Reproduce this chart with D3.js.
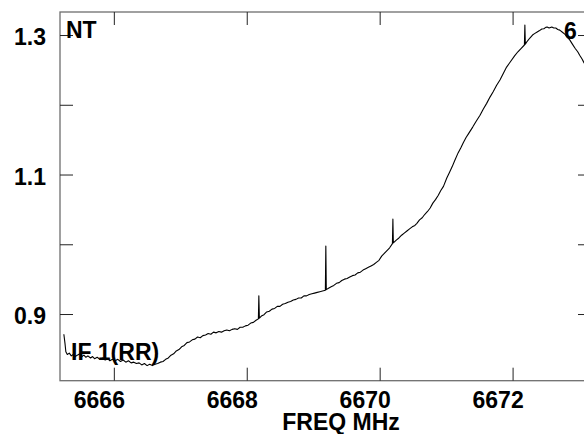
<!DOCTYPE html>
<html>
<head>
<meta charset="utf-8">
<script src="https://cdn.jsdelivr.net/npm/d3@7"></script>
<style>
html,body{margin:0;padding:0;background:#fff;}
svg{display:block;}
text{font-family:"Liberation Sans",Arial,Helvetica,sans-serif;font-weight:bold;fill:#000;}
</style>
</head>
<body>
<svg id="chart" width="584" height="434"></svg>
<script>
// ---- data ----
const xTicks = [6666, 6668, 6670, 6672];
const yTicks = [0.9, 1.0, 1.1, 1.2, 1.3];
const yLabels = [0.9, 1.1, 1.3];
const xDomain = [6665.19, 6673.18];
const yDomain = [0.8044, 1.333];
const xTitle = "FREQ MHz";
const cornerLabels = ["NT", "6", "IF 1(RR)"];

const freq = [
6665.248,6665.265,6665.278,6665.30,6665.33,6665.36,6665.39,6665.42,6665.45,6665.49,
6665.52,6665.55,6665.58,6665.61,6665.65,6665.68,6665.71,6665.75,6665.79,6665.83,
6665.87,6665.91,6665.94,6665.98,6666.02,6666.06,6666.10,6666.14,6666.18,6666.22,
6666.26,6666.30,6666.34,6666.38,6666.42,6666.46,6666.50,6666.54,6666.58,6666.62,
6666.66,6666.70,6666.74,6666.78,6666.82,6666.86,6666.90,6666.94,6666.98,6667.02,
6667.06,6667.10,6667.14,6667.18,6667.22,6667.26,6667.30,6667.34,6667.38,6667.42,
6667.46,6667.50,6667.54,6667.58,6667.62,6667.66,6667.70,6667.74,6667.78,6667.82,
6667.86,6667.90,6667.94,6667.98,6668.02,6668.06,6668.10,6668.14,6668.175,6668.182,
6668.19,6668.22,6668.26,6668.30,6668.34,6668.38,6668.42,6668.46,6668.50,6668.54,
6668.58,6668.62,6668.66,6668.70,6668.74,6668.78,6668.82,6668.86,6668.90,6668.94,
6668.98,6669.02,6669.06,6669.10,6669.14,6669.183,6669.19,6669.197,6669.23,6669.27,
6669.31,6669.35,6669.39,6669.43,6669.47,6669.51,6669.55,6669.59,6669.63,6669.67,
6669.71,6669.75,6669.79,6669.83,6669.87,6669.91,6669.95,6669.99,6670.03,6670.07,
6670.11,6670.15,6670.192,6670.199,6670.206,6670.25,6670.29,6670.33,6670.37,6670.41,
6670.45,6670.49,6670.53,6670.56,6670.60,6670.64,6670.68,6670.72,6670.76,6670.80,
6670.84,6670.88,6670.92,6670.96,6671.01,6671.05,6671.09,6671.13,6671.18,6671.22,
6671.26,6671.30,6671.34,6671.40,6671.45,6671.51,6671.56,6671.61,6671.66,6671.71,
6671.76,6671.81,6671.86,6671.91,6671.97,6672.03,6672.08,6672.13,6672.178,6672.185,
6672.192,6672.22,6672.26,6672.30,6672.33,6672.37,6672.40,6672.44,6672.47,6672.50,
6672.52,6672.55,6672.59,6672.62,6672.65,6672.68,6672.71,6672.75,6672.79,6672.82,
6672.86,6672.90,6672.94,6672.98,6673.01,6673.05,6673.07,6673.12,6673.18
];
const flux = [
0.871,0.858,0.846,0.842,0.844,0.840,0.842,0.839,0.841,0.843,
0.839,0.841,0.838,0.840,0.837,0.839,0.836,0.838,0.835,0.837,
0.834,0.836,0.833,0.835,0.833,0.835,0.832,0.834,0.831,0.833,
0.830,0.831,0.829,0.830,0.827,0.829,0.826,0.828,0.826,0.828,
0.829,0.831,0.832,0.835,0.837,0.841,0.843,0.847,0.849,0.853,
0.855,0.859,0.860,0.863,0.864,0.867,0.866,0.869,0.870,0.872,
0.871,0.874,0.873,0.875,0.874,0.876,0.877,0.876,0.878,0.879,
0.878,0.881,0.881,0.883,0.884,0.887,0.888,0.891,0.893,0.926,
0.894,0.897,0.899,0.903,0.904,0.907,0.908,0.911,0.911,0.914,
0.915,0.917,0.918,0.920,0.921,0.923,0.923,0.926,0.926,0.928,
0.929,0.930,0.931,0.932,0.933,0.934,0.9975,0.935,0.937,0.939,
0.941,0.944,0.945,0.948,0.950,0.951,0.953,0.955,0.956,0.959,
0.960,0.963,0.965,0.967,0.969,0.971,0.974,0.977,0.983,0.987,
0.991,0.995,1.001,1.036,1.002,1.006,1.009,1.013,1.016,1.019,
1.022,1.025,1.027,1.030,1.035,1.038,1.043,1.047,1.052,1.059,
1.064,1.070,1.077,1.083,1.095,1.103,1.111,1.120,1.131,1.138,
1.146,1.153,1.159,1.168,1.176,1.185,1.194,1.202,1.211,1.219,
1.228,1.2355,1.245,1.254,1.262,1.270,1.276,1.281,1.2857,1.3143,
1.287,1.291,1.2957,1.300,1.302,1.3043,1.306,1.3086,1.309,1.311,
1.3115,1.310,1.3115,1.310,1.310,1.308,1.307,1.304,1.301,1.297,
1.293,1.287,1.281,1.276,1.271,1.265,1.261,1.253,1.2455
];

// ---- layout ----
const L = 60, R = 591, T = 12, B = 380.7;
const svg = d3.select("#chart");
const x = d3.scaleLinear().domain(xDomain).range([L, R]);
const y = d3.scaleLinear().domain(yDomain).range([B, T]);

svg.append("defs").append("clipPath").attr("id", "plotclip")
  .append("rect").attr("x", L).attr("y", T).attr("width", R - L).attr("height", B - T);

// frame
svg.append("rect").attr("x", L).attr("y", T).attr("width", R - L).attr("height", B - T)
  .attr("fill", "none").attr("stroke", "#6e6e6e").attr("stroke-width", 1.3);

const tickLen = 13;
function styleAxis(g) {
  g.select(".domain").remove();
  g.selectAll(".tick line").attr("stroke", "#222").attr("stroke-width", 1);
}

// bottom axis with labels
const gx = svg.append("g").attr("transform", `translate(0,${B})`)
  .call(d3.axisBottom(x).tickValues(xTicks).tickSize(-tickLen).tickFormat(d3.format("d")));
styleAxis(gx);
gx.selectAll(".tick text")
  .attr("y", 27.3).attr("dy", null).attr("dx", -15)
  .style("font-size", "23px").style("font-family", '"Liberation Sans",Arial,sans-serif')
  .style("font-weight", "bold").attr("fill", "#000");

// top axis (ticks only)
const gt = svg.append("g").attr("transform", `translate(0,${T})`)
  .call(d3.axisTop(x).tickValues(xTicks).tickSize(-tickLen).tickFormat(""));
styleAxis(gt);

// left axis with labels
const gy = svg.append("g").attr("transform", `translate(${L},0)`)
  .call(d3.axisLeft(y).tickValues(yTicks).tickSize(-tickLen).tickPadding(14)
    .tickFormat(d => yLabels.some(v => Math.abs(v - d) < 1e-9) ? d3.format(".1f")(d) : ""));
styleAxis(gy);
gy.selectAll(".tick text")
  .attr("dy", "0.42em")
  .style("font-size", "23px").style("font-family", '"Liberation Sans",Arial,sans-serif')
  .style("font-weight", "bold").attr("fill", "#000");

// right axis (ticks only)
const gr = svg.append("g").attr("transform", `translate(${R},0)`)
  .call(d3.axisRight(y).tickValues(yTicks).tickSize(-tickLen).tickFormat(""));
styleAxis(gr);

// text labels
svg.append("text").attr("x", 66).attr("y", 38).style("font-size", "23px").text(cornerLabels[0]);
svg.append("text").attr("x", 564).attr("y", 39).style("font-size", "23px").text(cornerLabels[1]);
svg.append("text").attr("x", 71).attr("y", 360).style("font-size", "23px").text(cornerLabels[2]);

// x title
svg.append("text").attr("x", 341).attr("y", 430).attr("text-anchor", "middle")
  .style("font-size", "23px").text(xTitle);

// spectrum line
const pts = freq.map((f, i) => [f, flux[i]]);
svg.append("path")
  .attr("clip-path", "url(#plotclip)")
  .attr("d", d3.line().x(d => x(d[0])).y(d => y(d[1]))(pts))
  .attr("fill", "none").attr("stroke", "#000").attr("stroke-width", 1.1)
  .attr("stroke-linejoin", "round");
</script>
</body>
</html>
